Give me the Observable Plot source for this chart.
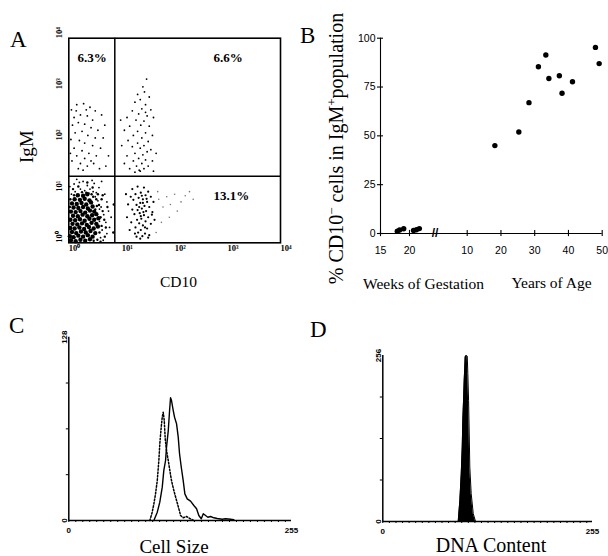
<!DOCTYPE html>
<html><head><meta charset="utf-8">
<script src="https://cdn.jsdelivr.net/npm/d3@7"></script>
<script src="https://cdn.jsdelivr.net/npm/@observablehq/plot@0.6"></script>
<style>
html,body{margin:0;padding:0;background:#fff;}
#fig{position:relative;width:608px;height:556px;overflow:hidden;background:#fff;}
.panel{position:absolute;}
#overlay{position:absolute;left:0;top:0;pointer-events:none;}
</style></head><body><div id="fig"></div>
<script>
const SERIF = "Liberation Serif, Times New Roman, serif";
const SANS = "Liberation Sans, Arial, sans-serif";

// ---------- Panel A : CD10 vs IgM dot plot (values are log10 fluorescence) ----------
const aDecades = [0, 1, 2, 3, 4];
const aTickLabels = ["10⁰", "10¹", "10²", "10³", "10⁴"];
const aGateCD10 = 7.4;
const aGateIgM = 20;
const aQuadLabels = ["6.3%", "6.6%", "13.1%"];
const aQuadCD10 = [1.46, 545, 545];
const aQuadIgM = [4100, 4100, 8.4];
// dense CD10- IgM- core
const aCoreLL = [[0.04,0.05],[0.13,0.03],[0.22,0.06],[0.31,0.04],[0.4,0.07],
[0.02,0.13],[0.09,0.11],[0.18,0.14],[0.27,0.12],[0.36,0.15],[0.45,0.12],
[0.06,0.21],[0.14,0.19],[0.23,0.22],[0.32,0.2],[0.41,0.23],[0.5,0.19],
[0.03,0.29],[0.11,0.28],[0.2,0.3],[0.29,0.27],[0.38,0.31],[0.47,0.28],[0.55,0.32],
[0.07,0.37],[0.16,0.36],[0.25,0.38],[0.34,0.35],[0.43,0.39],[0.52,0.37],
[0.03,0.45],[0.12,0.44],[0.21,0.46],[0.3,0.43],[0.39,0.47],[0.48,0.45],[0.56,0.48],
[0.08,0.53],[0.17,0.52],[0.26,0.55],[0.35,0.52],[0.44,0.54],[0.52,0.56],
[0.04,0.61],[0.13,0.6],[0.22,0.62],[0.31,0.59],[0.4,0.63],[0.48,0.61],
[0.09,0.69],[0.18,0.68],[0.27,0.7],[0.36,0.67],[0.45,0.71],
[0.06,0.77],[0.15,0.76],[0.24,0.78],[0.33,0.75],[0.42,0.79],
[0.11,0.85],[0.21,0.84],[0.3,0.86],[0.39,0.83],
[0.17,0.93],[0.27,0.92],[0.35,0.95]];
const aFringeLL = [[0.58,0.2],[0.62,0.33],[0.6,0.5],[0.64,0.62],[0.57,0.74],[0.52,0.85],[0.46,0.9],[0.43,0.95],[0.33,0.98],[0.25,0.99],[0.1,0.93],[0.03,0.85],[0.02,0.7],[0.6,0.02],[0.68,0.12],[0.7,0.3],[0.67,0.45],[0.73,0.7],[0.62,0.85],[0.55,0.95],[0.45,1.08],[0.35,1.18],[0.08,1.05],[0.18,1.1],[0.53,0.72],[0.5,0.65],[0.54,0.06],[0.47,0.04],[0.64,0.93],[0.84,0.2],[0.85,0.75]];
const aScatterLL = [[0.6,0.1],[0.63,0.25],[0.58,0.42],[0.66,0.55],[0.61,0.7],[0.55,0.82],[0.5,0.9],[0.46,1.0],[0.4,1.05],[0.3,1.02],[0.22,1.05],[0.12,1.0],[0.05,0.95],[0.02,1.1],[0.1,1.15],[0.2,1.18],[0.35,1.12],[0.48,1.16],[0.57,1.08],[0.68,0.95],[0.72,0.8],[0.75,0.62],[0.7,0.4],[0.72,0.18],[0.65,0.05],[0.52,0.98],[0.27,1.2],[0.44,1.22],[0.62,1.2],[0.8,0.5],[0.15,1.24],[0.38,0.97],[0.58,0.66],[0.05,0.02],[0.77,0.3]];
const aLR = [[1.2,1.05],[1.3,1.1],[1.42,1.08],[1.5,1.0],[1.36,0.98],[1.26,0.95],[1.45,0.93],[1.55,0.9],[1.32,0.88],[1.4,0.85],[1.22,0.84],[1.48,0.8],[1.35,0.78],[1.28,0.74],[1.43,0.72],[1.52,0.7],[1.38,0.67],[1.3,0.64],[1.46,0.62],[1.58,0.6],[1.34,0.58],[1.24,0.56],[1.42,0.54],[1.5,0.5],[1.37,0.47],[1.29,0.45],[1.45,0.42],[1.18,0.4],[1.33,0.38],[1.55,0.37],[1.4,0.34],[1.26,0.3],[1.48,0.28],[1.36,0.25],[1.31,0.2],[1.44,0.18],[1.39,0.13],[1.5,0.1],[1.28,0.12],[1.1,0.5],[1.12,0.75],[1.08,0.95],[1.15,0.25],[1.6,0.8],[1.62,0.45],[1.38,0.92],[1.47,0.86],[1.33,0.7],[1.41,0.6],[1.36,0.52],[1.44,0.3],[1.2,0.65],[1.52,0.15],[1.25,0.18],[1.35,0.08],[1.17,0.9],[1.57,0.55],[1.4,0.78]];
const aLRFaint = [[1.7,0.85],[1.78,0.7],[1.85,0.9],[1.92,0.75],[2.0,0.95],[2.05,0.62],[2.12,0.8],[2.2,0.92],[2.28,1.0],[1.75,0.4],[1.9,0.5],[1.68,1.0],[2.35,0.85],[1.65,0.2]];
const aUL = [[0.05,2.6],[0.15,2.7],[0.28,2.72],[0.4,2.65],[0.5,2.58],[0.62,2.5],[0.1,2.45],[0.22,2.5],[0.35,2.48],[0.45,2.4],[0.07,2.3],[0.18,2.35],[0.3,2.32],[0.42,2.25],[0.55,2.2],[0.68,2.3],[0.12,2.15],[0.25,2.18],[0.36,2.1],[0.5,2.05],[0.04,2.02],[0.2,2.0],[0.3,1.95],[0.45,1.9],[0.6,1.85],[0.1,1.85],[0.25,1.8],[0.38,1.75],[0.15,1.7],[0.3,1.65],[0.52,1.7],[0.06,1.6],[0.22,1.55],[0.42,1.6],[0.35,1.5],[0.18,1.45],[0.7,1.5],[0.75,1.7],[0.58,1.45],[0.27,1.42],[0.47,1.55],[0.14,2.58],[0.33,2.6],[0.03,1.75],[0.65,2.05]];
const aUR = [[1.47,3.2],[1.4,3.05],[1.43,2.95],[1.3,2.9],[1.52,2.85],[1.35,2.8],[1.25,2.75],[1.45,2.7],[1.38,2.62],[1.55,2.6],[1.2,2.58],[1.32,2.52],[1.48,2.48],[1.6,2.45],[1.1,2.45],[1.27,2.4],[1.42,2.38],[1.36,2.3],[1.52,2.28],[1.15,2.28],[1.05,2.2],[1.3,2.18],[1.45,2.15],[1.58,2.1],[1.22,2.1],[1.38,2.05],[1.12,2.0],[1.5,1.98],[1.3,1.95],[1.42,1.9],[1.2,1.88],[1.35,1.85],[1.55,1.82],[1.48,1.78],[1.25,1.75],[1.4,1.72],[1.1,1.7],[1.32,1.65],[1.45,1.62],[1.58,1.6],[1.22,1.6],[1.38,1.55],[1.5,1.5],[1.28,1.5],[1.15,1.45],[1.42,1.45],[1.35,1.4],[1.6,1.4],[1.25,1.38],[1.0,1.9],[0.98,2.4],[1.65,1.75],[1.05,1.55],[1.45,2.55],[1.33,1.42]];

// ---------- Panel B ----------
const bWeeks = [17.9, 18.3, 19.0, 20.7, 21.2, 21.7];
const bWeeksPct = [1.2, 1.8, 2.4, 1.6, 1.9, 2.5];
const bYears = [18.2, 25.3, 28.3, 31.1, 33.3, 34.2, 37.3, 38.1, 41.2, 48.0, 49.1];
const bYearsPct = [45, 52, 67, 85.4, 91.4, 79.4, 80.8, 71.8, 77.7, 95.3, 87];
const bWeekTicks = [15, 20];
const bYearTicks = [10, 20, 30, 40, 50];
const bPctTicks = [0, 25, 50, 75, 100];

// ---------- Panel C : cell size histograms ----------
const cSolidCh = [97.4,101.3,104.2,107,108.8,110.8,111.9,113.9,115.4,116.5,117.6,119.6,121.1,123.4,125.3,126.8,128.8,131,132.9,135.6,139.4,143.2,146.3,148.9,151.7,154,156.6,159.2,162.3,166.1,170,175.7,179.5,185.2,189];
const cSolidN  = [0,5.8,12.8,23.3,35,41.9,51.2,62.8,76.8,85.7,83.8,76.8,72.1,67.5,58.2,46.6,37.2,27.9,18.6,15.1,13.5,10.5,8.2,3.5,1.2,4.7,3.5,2.3,2.8,1.9,1.4,0.9,1.2,0.9,0.5];
const cDotCh = [92.8,95.5,97.4,99.3,101.3,103.1,104.2,105.8,107,108.1,109.3,110.4,111.9,113.9,115.7,117.6,120.3,123.4,126,128,131,134.8,138.6,143.2];
const cDotN  = [0,5.8,11.6,18.6,27.9,41.9,53.5,65.1,72.1,75.6,69.8,57,48.9,41.9,34.9,27.9,20.9,14,8.2,3.5,1.9,2.8,1.4,0];

// ---------- Panel D : DNA content histogram ----------
const dCh = [91.7,93.7,95.4,96.6,97.3,98.2,99,100.2,101.4,102.7,103.4,104.3,105.1,105.8,107.5,110,112.8];
const dN  = [0,32,74,115,156,187,218,254,256,255,228,187,135,84,43,12,0];

const fig = document.getElementById("fig");
function place(el, left, top) {
  const d = document.createElement("div");
  d.className = "panel"; d.style.left = left + "px"; d.style.top = top + "px";
  d.appendChild(el); fig.appendChild(d);
}
const baseStyle = {background: "transparent", color: "black", fontFamily: SERIF, overflow: "visible"};
const lg = d => 10 ** d;

// Panel A
const aQuad = aQuadLabels.map((t, i) => ({t, x: aQuadCD10[i], y: aQuadIgM[i]}));
place(Plot.plot({
  width: 300, height: 300,
  marginLeft: 68.3, marginRight: 20, marginTop: 37.7, marginBottom: 57.7,
  style: baseStyle,
  x: {type: "log", domain: [1, 1e4], axis: null},
  y: {type: "log", domain: [1, 1e4], axis: null},
  marks: [
    Plot.dot(aLRFaint, {x: d => lg(d[0]), y: d => lg(d[1]), r: 0.8, fill: "#777"}),
    Plot.dot(aCoreLL, {x: d => lg(d[0]), y: d => lg(d[1]), r: 2.2, fill: "black"}),
    Plot.dot(aFringeLL, {x: d => lg(d[0]), y: d => lg(d[1]), r: 1.2, fill: "black"}),
    Plot.dot(aScatterLL, {x: d => lg(d[0]), y: d => lg(d[1]), r: 0.9, fill: "black"}),
    Plot.dot(aLR, {x: d => lg(d[0]), y: d => lg(d[1]), r: 1.1, fill: "black"}),
    Plot.dot(aUL, {x: d => lg(d[0]), y: d => lg(d[1]), r: 0.9, fill: "black"}),
    Plot.dot(aUR, {x: d => lg(d[0]), y: d => lg(d[1]), r: 0.9, fill: "black"}),
    Plot.ruleX([aGateCD10], {stroke: "black", strokeWidth: 1.5}),
    Plot.ruleY([aGateIgM], {stroke: "black", strokeWidth: 1.5}),
    Plot.frame({stroke: "black", strokeWidth: 1.6}),
    Plot.text(aDecades, {x: lg, frameAnchor: "bottom", dy: 8, text: (d, i) => aTickLabels[i], textAnchor: "start", fontSize: 8.5, fontWeight: "bold", fill: "black"}),
    Plot.text(aDecades, {y: lg, frameAnchor: "left", dx: -10, rotate: -90, text: (d, i) => aTickLabels[i], textAnchor: "start", fontSize: 8.5, fontWeight: "bold", fill: "black"}),
    Plot.text(aQuad, {x: "x", y: "y", text: "t", textAnchor: "start", fontSize: 13, fontWeight: "bold", fill: "black"})
  ]
}), 0, 0);

// Panel B (broken x axis: gestation weeks, then years of age)
const WEEK_ORIGIN = -15.69, WEEK_UNIT = 1.718, BREAK_AT = 0.45;
const weekPos = w => WEEK_ORIGIN + (w - 15) * WEEK_UNIT;
const bPts = [
  ...bWeeks.map((w, i) => ({pos: weekPos(w), pct: bWeeksPct[i]})),
  ...bYears.map((y, i) => ({pos: y, pct: bYearsPct[i]}))
];
const bXT = [
  ...bWeekTicks.map(w => ({pos: weekPos(w), label: String(w)})),
  ...bYearTicks.map(y => ({pos: y, label: String(y)}))
];
place(Plot.plot({
  width: 308, height: 300,
  marginLeft: 80, marginRight: 6.3, marginTop: 37.7, marginBottom: 67,
  style: baseStyle,
  x: {domain: [WEEK_ORIGIN, 50], axis: null},
  y: {domain: [0, 100], axis: null},
  marks: [
    Plot.ruleY([0], {stroke: "black", strokeWidth: 1.1}),
    Plot.ruleX([WEEK_ORIGIN], {stroke: "black", strokeWidth: 1.1}),
    Plot.ruleX(bXT, {x: "pos", y1: -1.6, y2: 1.6, stroke: "black", strokeWidth: 1.1}),
    Plot.ruleY(bPctTicks, {y: d => d, x1: WEEK_ORIGIN - 0.9, x2: WEEK_ORIGIN + 0.9, stroke: "black", strokeWidth: 1.1}),
    Plot.text(["//"], {x: BREAK_AT, y: 0, text: d => d, fontFamily: SANS, fontSize: 12, fontWeight: "bold", fill: "black"}),
    Plot.text(bPctTicks, {x: WEEK_ORIGIN, y: d => d, dx: -5, textAnchor: "end", fontFamily: SANS, fontSize: 10.5, fill: "black"}),
    Plot.text(bXT, {x: "pos", y: 0, dy: 17, text: "label", fontFamily: SANS, fontSize: 10.5, fill: "black"}),
    Plot.dot(bPts, {x: "pos", y: "pct", r: 2.7, fill: "black"})
  ]
}), 300, 0);

// Panel C
const cSolid = cSolidCh.map((c, i) => ({c, n: cSolidN[i]}));
const cDot = cDotCh.map((c, i) => ({c, n: cDotN[i]}));
const minorX = d3.range(0, 256, 8);
place(Plot.plot({
  width: 300, height: 256,
  marginLeft: 68.3, marginRight: 9, marginTop: 36.7, marginBottom: 36,
  style: baseStyle,
  x: {domain: [0, 255], axis: null},
  y: {domain: [0, 128], axis: null},
  marks: [
    Plot.axisX(minorX, {tickSize: 2, tickFormat: () => "", label: null, strokeWidth: 1}),
    Plot.axisY([32, 64, 96], {tickSize: 2.5, tickFormat: () => "", label: null, strokeWidth: 1}),
    Plot.ruleX([0], {stroke: "black", strokeWidth: 1.5}),
    Plot.ruleY([0], {stroke: "black", strokeWidth: 1.5}),
    Plot.line(cDot, {x: "c", y: "n", stroke: "black", strokeWidth: 1.5, strokeDasharray: "1.6,1.8"}),
    Plot.line(cSolid, {x: "c", y: "n", stroke: "black", strokeWidth: 1.4}),
    Plot.text([0, 128], {x: 0, y: d => d, dx: -4, rotate: -90, text: d => String(d), fontSize: 8, fontWeight: "bold", fontFamily: SANS, fill: "black"}),
    Plot.text([0, 255], {x: d => d, y: 0, dy: 10, text: d => String(d), fontSize: 8, fontWeight: "bold", fontFamily: SANS, fill: "black"})
  ]
}), 0, 300);

// Panel D
const dData = dCh.map((c, i) => ({c, n: dN[i]}));
place(Plot.plot({
  width: 308, height: 256,
  marginLeft: 82.3, marginRight: 16, marginTop: 55, marginBottom: 35,
  style: baseStyle,
  x: {domain: [0, 255], axis: null},
  y: {domain: [0, 256], axis: null},
  marks: [
    Plot.axisX(minorX, {tickSize: 2, tickFormat: () => "", label: null, strokeWidth: 1}),
    Plot.axisY([64, 128, 192], {tickSize: 2.5, tickFormat: () => "", label: null, strokeWidth: 1}),
    Plot.areaY(dData, {x: "c", y: "n", fill: "black"}),
    Plot.line(dData, {x: "c", y: "n", stroke: "black", strokeWidth: 1}),
    Plot.ruleX([0], {stroke: "black", strokeWidth: 1.5}),
    Plot.ruleY([0], {stroke: "black", strokeWidth: 1.5}),
    Plot.text([0, 256], {x: 0, y: d => d, dx: -4, rotate: -90, text: d => String(d), fontSize: 8, fontWeight: "bold", fontFamily: SANS, fill: "black"}),
    Plot.text([0, 255], {x: d => d, y: 0, dy: 10, text: d => String(d), fontSize: 8, fontWeight: "bold", fontFamily: SANS, fill: "black"})
  ]
}), 300, 300);

// Overlay: panel letters and axis titles
const ov = d3.select(fig).append("svg").attr("id", "overlay").attr("width", 608).attr("height", 556);
function addText(str, x, y, size, o = {}) {
  return ov.append("text")
    .attr("transform", `translate(${x},${y}) rotate(${o.rotate || 0})`)
    .attr("text-anchor", o.anchor || "middle")
    .attr("font-family", o.family || SERIF)
    .attr("font-size", size)
    .attr("font-weight", o.weight || "normal")
    .attr("fill", "black")
    .text(str);
}
addText("A", 10, 47, 23, {anchor: "start"});
addText("B", 300, 43, 23, {anchor: "start"});
addText("C", 9, 333, 23, {anchor: "start"});
addText("D", 310, 337, 23, {anchor: "start"});
addText("IgM", 33, 146.7, 19, {rotate: -90});
addText("CD10", 178.5, 286.5, 15.5);
addText("Weeks of Gestation", 423.5, 289, 15.5);
addText("Years of Age", 551.5, 288, 15.5);
addText("Cell Size", 174, 553, 19);
addText("DNA Content", 491, 552, 20);
const yl = addText("", 343, 148.5, 20, {rotate: -90});
yl.append("tspan").text("% CD10");
yl.append("tspan").attr("baseline-shift", "super").attr("font-size", "65%").text("−");
yl.append("tspan").text(" cells in IgM");
yl.append("tspan").attr("baseline-shift", "super").attr("font-size", "65%").text("+");
yl.append("tspan").text("population");
</script></body></html>
